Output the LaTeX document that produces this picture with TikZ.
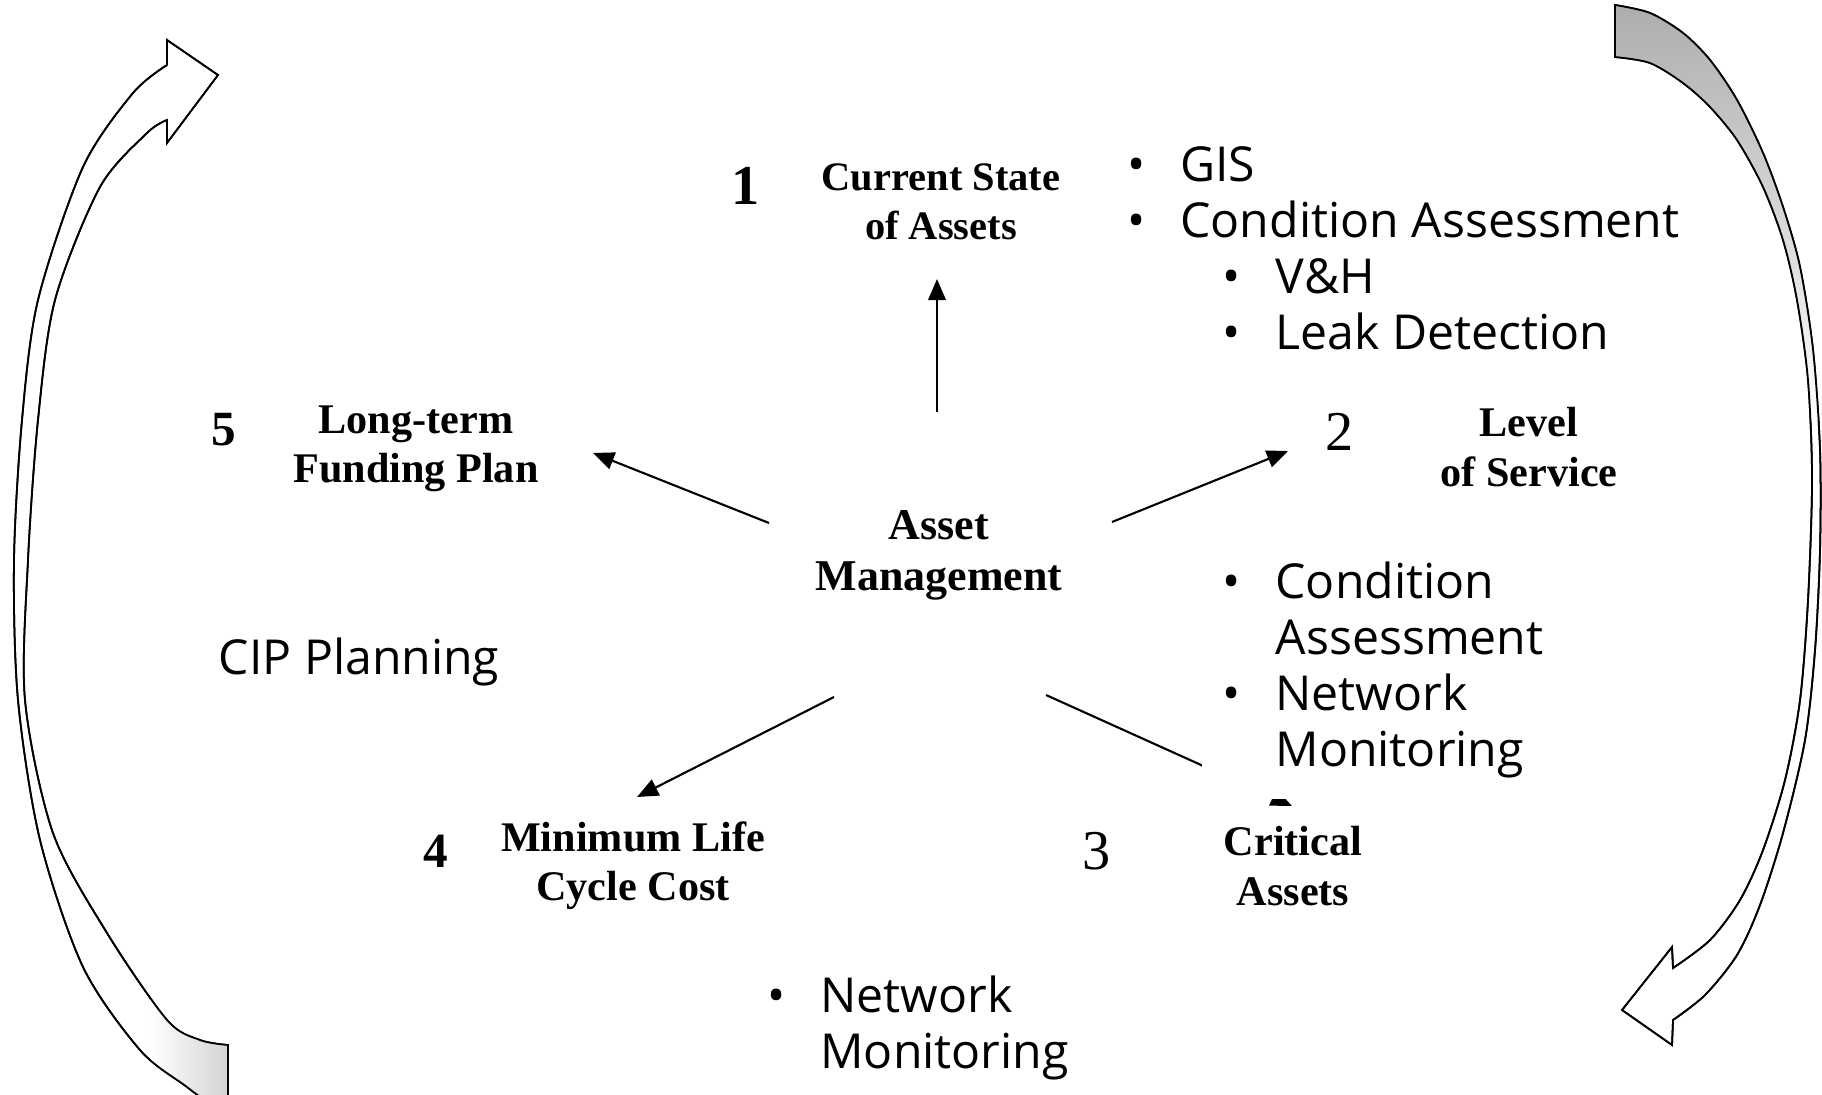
\documentclass[tikz,border=0pt]{standalone}
\usepackage{fontspec}
\setmainfont{Liberation Serif}
\newfontfamily\listfont{Open Sans}
\usetikzlibrary{arrows.meta}

\tikzset{
  num/.style={font=\fontsize{16}{18}\selectfont, inner sep=0pt},
  bnum/.style={font=\bfseries\fontsize{14}{16}\selectfont, inner sep=0pt},
  lbl/.style={font=\bfseries\fontsize{12}{14}\selectfont, align=center, inner sep=0pt},
  blist/.style={font=\listfont\fontsize{13.7}{15.9}\selectfont, align=left, inner sep=0pt, anchor=north west},
  link/.style={line width=0.6pt, -{Triangle[length=6pt,width=5pt]}},
  band/.style={line width=0.5pt, fill=white},
}
\newcommand{\lstbul}{\makebox[15pt][l]{\textbullet}}

\begin{document}
\begin{tikzpicture}[x=0.01cm, y=-0.01cm]
  \useasboundingbox (0,0) rectangle (1822,1094);
  \clip (0,0) rectangle (1822,1094);

  % big cycle arrows
  \def\leftband{(228,1045) -- (228,1118) -- plot[smooth] coordinates {(228,1118) (187,1087) (140,1050) (83,967) (40,840) (18,700) (14,560) (22,420) (38,300) (83,167) (133,93) (167,65)} -- (167,40) -- (218,75) -- (167,143) -- (167,120) -- plot[smooth] coordinates {(167,120) (147,133) (100,187) (55,300) (38,420) (28,560) (25,700) (53,833) (107,933) (167,1020) (200,1040) (228,1045)} -- cycle}
  \def\rightband{(1615,57) -- (1615,5) -- plot[smooth] coordinates {(1615,5) (1650,13) (1683,33) (1710,60) (1737,100) (1763,153) (1783,207) (1800,267) (1813,350) (1820,450) (1820,550) (1815,650) (1805,740) (1783,833) (1760,905) (1737,955) (1705,995) (1673,1020)} -- (1672,1045) -- (1622,1010) -- (1672,947) -- (1673,968) -- plot[smooth] coordinates {(1673,968) (1710,940) (1740,900) (1763,850) (1785,780) (1800,700) (1808,600) (1812,480) (1808,380) (1797,300) (1783,240) (1763,187) (1737,140) (1710,107) (1683,83) (1650,63) (1615,57)} -- cycle}
  \draw[band] \leftband;
  \draw[band] \rightband;
  \begin{scope}
    \clip \rightband;
    \shade[top color=gray!65, bottom color=white] (1600,0) rectangle (1822,420);
  \end{scope}
  \begin{scope}
    \clip \leftband;
    \shade[left color=white, right color=gray!35] (150,1000) rectangle (230,1100);
  \end{scope}
  \draw[line width=0.5pt] \leftband;
  \draw[line width=0.5pt] \rightband;

  % centre and the five steps
  \node[lbl, font=\bfseries\fontsize{12.5}{14.5}\selectfont] (am) at (939,555) {Asset\\Management};

  \node[num, font=\bfseries\fontsize{16}{18}\selectfont] (n1) at (746,186) {1};
  \node[lbl, font=\bfseries\fontsize{11.5}{14}\selectfont] (cur) at (941,202) {Current State\\of Assets};

  \node[num] (n2) at (1340,432) {2};
  \node[lbl] (los) at (1529,447) {Level\\of Service};

  \node[num] (n3) at (1097,851) {3};
  \node[lbl] (crit) at (1293,866) {Critical\\Assets};

  \node[bnum] (n4) at (436,851) {4};
  \node[lbl] (mlc) at (633,866) {Minimum Life\\Cycle Cost};

  \node[bnum] (n5) at (224,430) {5};
  \node[lbl] (ltf) at (416,449) {Long-term\\Funding Plan};

  % arrows out of the centre
  \coordinate (am-up) at (937,412);   \coordinate (cur-in) at (937,279);
  \coordinate (am-ur) at (1112,522);  \coordinate (los-in) at (1288,451);
  \coordinate (am-lr) at (1046,695);  \coordinate (crit-in) at (1292,806);
  \coordinate (am-ll) at (834,697);   \coordinate (mlc-in) at (637,797);
  \coordinate (am-ul) at (769,523);   \coordinate (ltf-in) at (593,453);
  \draw[link] (am-up) -- (cur-in);
  \draw[link] (am-ur) -- (los-in);
  \draw[link] (am-lr) -- (crit-in);
  \draw[link] (am-ll) -- (mlc-in);
  \draw[link] (am-ul) -- (ltf-in);

  % bullet texts
  \node[blist] (curlist) at (1127,146) {\lstbul GIS\\\lstbul Condition Assessment\\\hspace{27pt}\lstbul V\&H\\\hspace{27pt}\lstbul Leak Detection};
  \node[blist, fill=white, inner sep=6pt] (loslist) at (1201,540) {\lstbul Condition\\\hspace{15pt}Assessment\\\lstbul Network\\\hspace{15pt}Monitoring};
  \node[blist] (mlclist) at (767,975) {\lstbul Network\\\hspace{15pt}Monitoring};
  \node[blist, anchor=base west] (cip) at (218,674) {CIP Planning};
\end{tikzpicture}
\end{document}
